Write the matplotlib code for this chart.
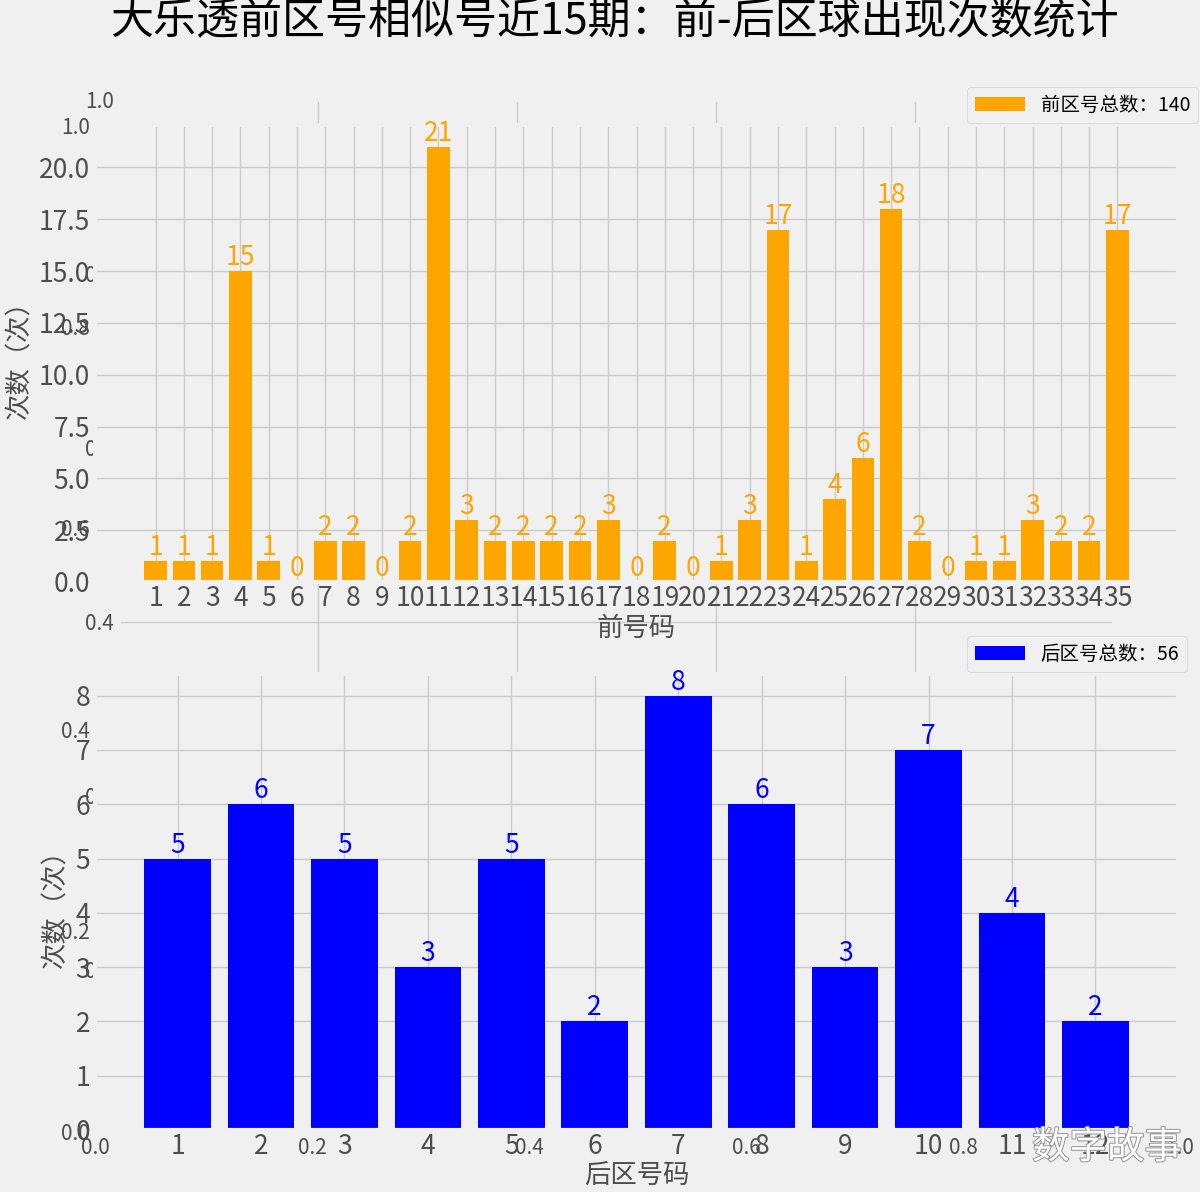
import numpy as np
import matplotlib
matplotlib.use("Agg")
import matplotlib.pyplot as plt
from matplotlib import ticker
import matplotlib.patheffects as pe

plt.style.use('fivethirtyeight')
plt.rcParams['font.family'] = ['Noto Sans CJK SC', 'DejaVu Sans']
plt.rcParams['axes.unicode_minus'] = False

# data
front_nums = list(range(1, 36))
front_counts = [1, 1, 1, 15, 1, 0, 2, 2, 0, 2, 21, 3, 2, 2, 2, 2, 3, 0, 2, 0,
                1, 3, 17, 1, 4, 6, 18, 2, 0, 1, 1, 3, 2, 2, 17]
back_nums = list(range(1, 13))
back_counts = [5, 6, 5, 3, 5, 2, 8, 6, 3, 7, 4, 2]

title = '大乐透前区号相似号近15期：前-后区球出现次数统计'
gray = '#4d4d4d'

W, H = 1200, 1192
fig = plt.figure(figsize=(W / 100, H / 100), dpi=100)


def px_rect(x0, y0, x1, y1):
    return [x0 / W, 1 - y1 / H, (x1 - x0) / W, (y1 - y0) / H]


# leftover empty axes behind the subplots
ax_bg = fig.add_axes(px_rect(95, 125, 1180, 1132))
ax_bg.tick_params(labelsize=15, labelcolor=gray)
ax_bg2 = fig.add_axes(px_rect(119, 100, 1114, 970))
ax_bg2.tick_params(labelsize=15, labelcolor=gray)

# front area
ax1 = fig.add_axes(px_rect(95, 125, 1178, 582))
ax1.bar(front_nums, front_counts, color='orange', label='前区号总数：%d' % sum(front_counts))
for x, y in zip(front_nums, front_counts):
    ax1.text(x, y, str(y), ha='center', va='bottom', color='orange', fontsize=19)
ax1.set_xticks(front_nums)
ax1.yaxis.set_major_locator(ticker.MultipleLocator(2.5))
ax1.yaxis.set_major_formatter(ticker.FormatStrFormatter('%.1f'))
ax1.tick_params(axis='x', labelsize=19, labelcolor=gray, pad=2)
ax1.tick_params(axis='y', labelsize=19, labelcolor=gray)
ax1.set_xlabel('前号码', fontsize=19, color=gray, labelpad=2)
ax1.set_ylabel('次数（次）', fontsize=19, color=gray)
ax1.legend(loc='lower right', bbox_to_anchor=(1.022, 0.995), fontsize=14,
           borderaxespad=0.2, handlelength=2.6)

# back area
ax2 = fig.add_axes(px_rect(95, 674, 1178, 1130))
ax2.bar(back_nums, back_counts, color='blue', label='后区号总数：%d' % sum(back_counts))
for x, y in zip(back_nums, back_counts):
    ax2.text(x, y, str(y), ha='center', va='bottom', color='blue', fontsize=19)
ax2.set_xticks(back_nums)
ax2.yaxis.set_major_locator(ticker.MultipleLocator(1))
ax2.tick_params(axis='x', labelsize=19, labelcolor=gray, pad=2)
ax2.tick_params(axis='y', labelsize=19, labelcolor=gray)
ax2.set_xlabel('后区号码', fontsize=19, color=gray, labelpad=2)
ax2.set_ylabel('次数（次）', fontsize=19, color=gray)
ax2.legend(loc='lower right', bbox_to_anchor=(1.012, 0.995), fontsize=14,
           borderaxespad=0.2, handlelength=2.6)

fig.text(0.512, 0.981, title, ha='center', va='center', fontsize=31, color='black')
fig.text(0.985, 0.037, '数字故事', ha='right', va='center', fontsize=27,
         color='white', path_effects=[pe.withStroke(linewidth=1.5, foreground='#999999')])

fig.savefig('out.png', dpi=100, facecolor=fig.get_facecolor())
